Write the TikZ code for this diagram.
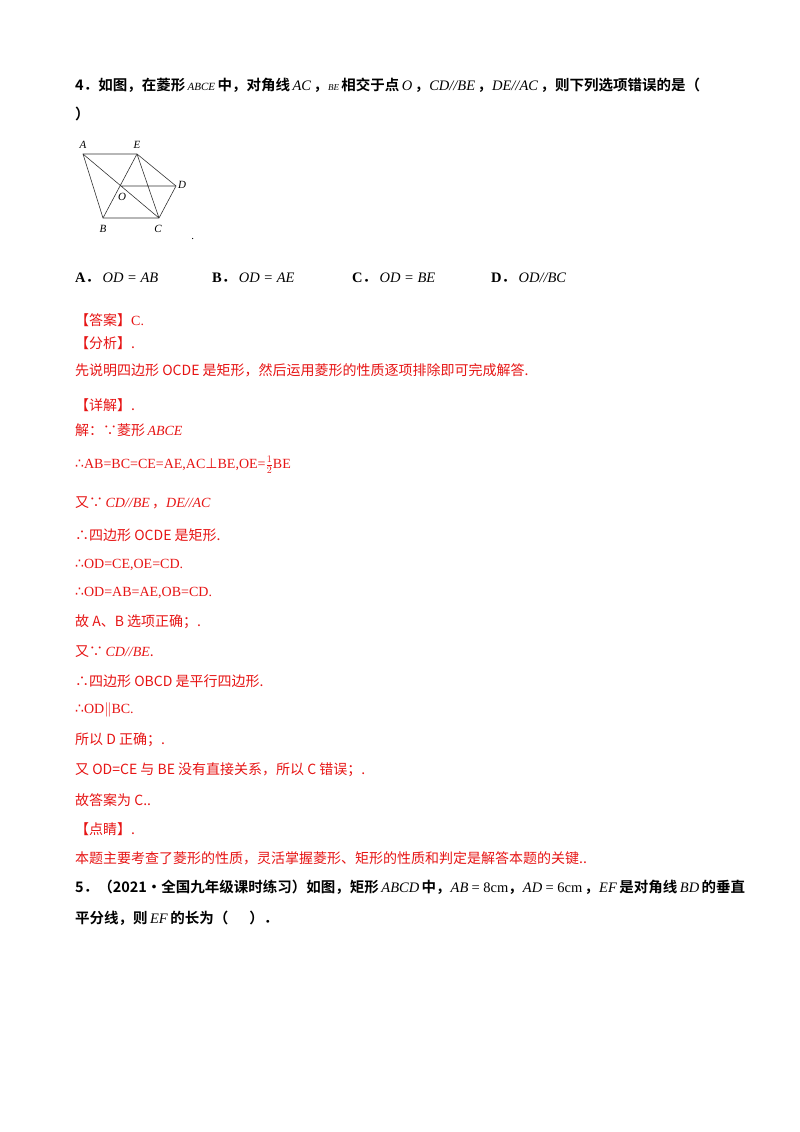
\documentclass[tikz,border=0pt]{standalone}
\usepackage{fontspec}
\setmainfont{Liberation Serif}
\newfontfamily\cjk{Noto Sans CJK SC}
\newfontfamily\cjkb{Noto Sans CJK SC Bold}
\newfontfamily\symf{DejaVu Sans}
\definecolor{ans}{RGB}{230,20,20}
\newcommand{\thf}{{\symf ∴}}
\begin{document}
\begin{tikzpicture}[x=1pt,y=-1pt,
  t/.style={anchor=west,inner sep=0pt,font=\fontsize{14}{16}\selectfont\cjk},
  tb/.style={t,font=\fontsize{14.5}{16}\selectfont\cjkb},
  r/.style={t,text=ans},
  lab/.style={inner sep=0pt,font=\fontsize{11}{12}\selectfont\itshape},
  seg/.style={line width=0.6pt,black!80}]
\useasboundingbox (0,0) rectangle (800,1132);
\node[tb] (q1) at (75,85) {4．如图，在菱形\,\textit{\rmfamily\mdseries\fontsize{11}{12}\selectfont ABCE}\,中，对角线\,\textit{\rmfamily\mdseries AC}\,，\textit{\rmfamily\mdseries\fontsize{9}{10}\selectfont BE}\,相交于点\,\textit{\rmfamily\mdseries O}\,，\textit{\rmfamily\mdseries CD//BE}\,，\textit{\rmfamily\mdseries DE//AC}\,，则下列选项错误的是（};
\node[tb] (q2) at (75,114) {）};
% figure
\coordinate (A) at (83,154); \coordinate (E) at (137,154); \coordinate (D) at (176,186);
\coordinate (O) at (121,186); \coordinate (B) at (103,218); \coordinate (C) at (159,218);
\draw[seg] (A)--(E)--(D)--(C)--(B)--cycle;
\draw[seg] (A)--(C) (B)--(E) (E)--(C) (O)--(D);
\node[lab] (lA) at (83,145) {A}; \node[lab] (lE) at (137,145) {E};
\node[lab] (lD) at (182,185) {D}; \node[lab] (lO) at (122,197) {O};
\node[lab] (lB) at (103,229) {B}; \node[lab] (lC) at (158,229) {C};
\node[lab] (dot) at (193,239) {.};
% options
\node[tb] (oA) at (75,278) {{\rmfamily\bfseries A}．\,\textit{\rmfamily\mdseries OD = AB}};
\node[tb] (oB) at (212,278) {{\rmfamily\bfseries B}．\,\textit{\rmfamily\mdseries OD = AE}};
\node[tb] (oC) at (352,278) {{\rmfamily\bfseries C}．\,\textit{\rmfamily\mdseries OD = BE}};
\node[tb] (oD) at (491,278) {{\rmfamily\bfseries D}．\,\textit{\rmfamily\mdseries OD//BC}};
% answer
\node[r] (l1) at (75,320) {【答案】{\rmfamily C.}};
\node[r] (l2) at (75,343) {【分析】.};
\node[r] (l3) at (75,370) {先说明四边形 OCDE 是矩形，然后运用菱形的性质逐项排除即可完成解答.};
\node[r] (l4) at (75,405) {【详解】.};
\node[r] (l5) at (75,430) {解：∵菱形\,\textit{\rmfamily ABCE}};
\node[r] (l6) at (75,465) {\thf\rmfamily AB=BC=CE=AE,AC{\symf ⊥}BE,OE=$\frac{1}{2}$BE};
\node[r] (l7) at (75,503) {又∵\,\textit{\rmfamily CD//BE}\,，\textit{\rmfamily DE//AC}};
\node[r] (l8) at (75,535) {∴四边形 OCDE 是矩形.};
\node[r] (l9) at (75,565) {\thf\rmfamily OD=CE,OE=CD.};
\node[r] (l10) at (75,593) {\thf\rmfamily OD=AB=AE,OB=CD.};
\node[r] (l11) at (75,622) {故 A、B 选项正确；.};
\node[r] (l12) at (75,652) {又∵\,\textit{\rmfamily CD//BE}.};
\node[r] (l13) at (75,681) {∴四边形 OBCD 是平行四边形.};
\node[r] (l14) at (75,710) {\thf\rmfamily OD$\|$BC.};
\node[r] (l15) at (75,740) {所以 D 正确；.};
\node[r] (l16) at (75,770) {又 OD=CE 与 BE 没有直接关系，所以 C 错误；.};
\node[r] (l17) at (75,800) {故答案为 C..};
\node[r] (l18) at (75,829) {【点睛】.};
\node[r] (l19) at (75,858) {本题主要考查了菱形的性质，灵活掌握菱形、矩形的性质和判定是解答本题的关键..};
\node[tb] (q5) at (75,887) {5．（2021·全国九年级课时练习）如图，矩形\,\textit{\rmfamily\mdseries ABCD}\,中，\textit{\rmfamily\mdseries AB} {\rmfamily\mdseries = 8cm}，\textit{\rmfamily\mdseries AD} {\rmfamily\mdseries = 6cm}\,，\textit{\rmfamily\mdseries EF}\,是对角线\,\textit{\rmfamily\mdseries BD}\,的垂直};
\node[tb] (q6) at (75,918) {平分线，则\,\textit{\rmfamily\mdseries EF}\,的长为（\quad\ \ ）．};
\end{tikzpicture}
\end{document}
